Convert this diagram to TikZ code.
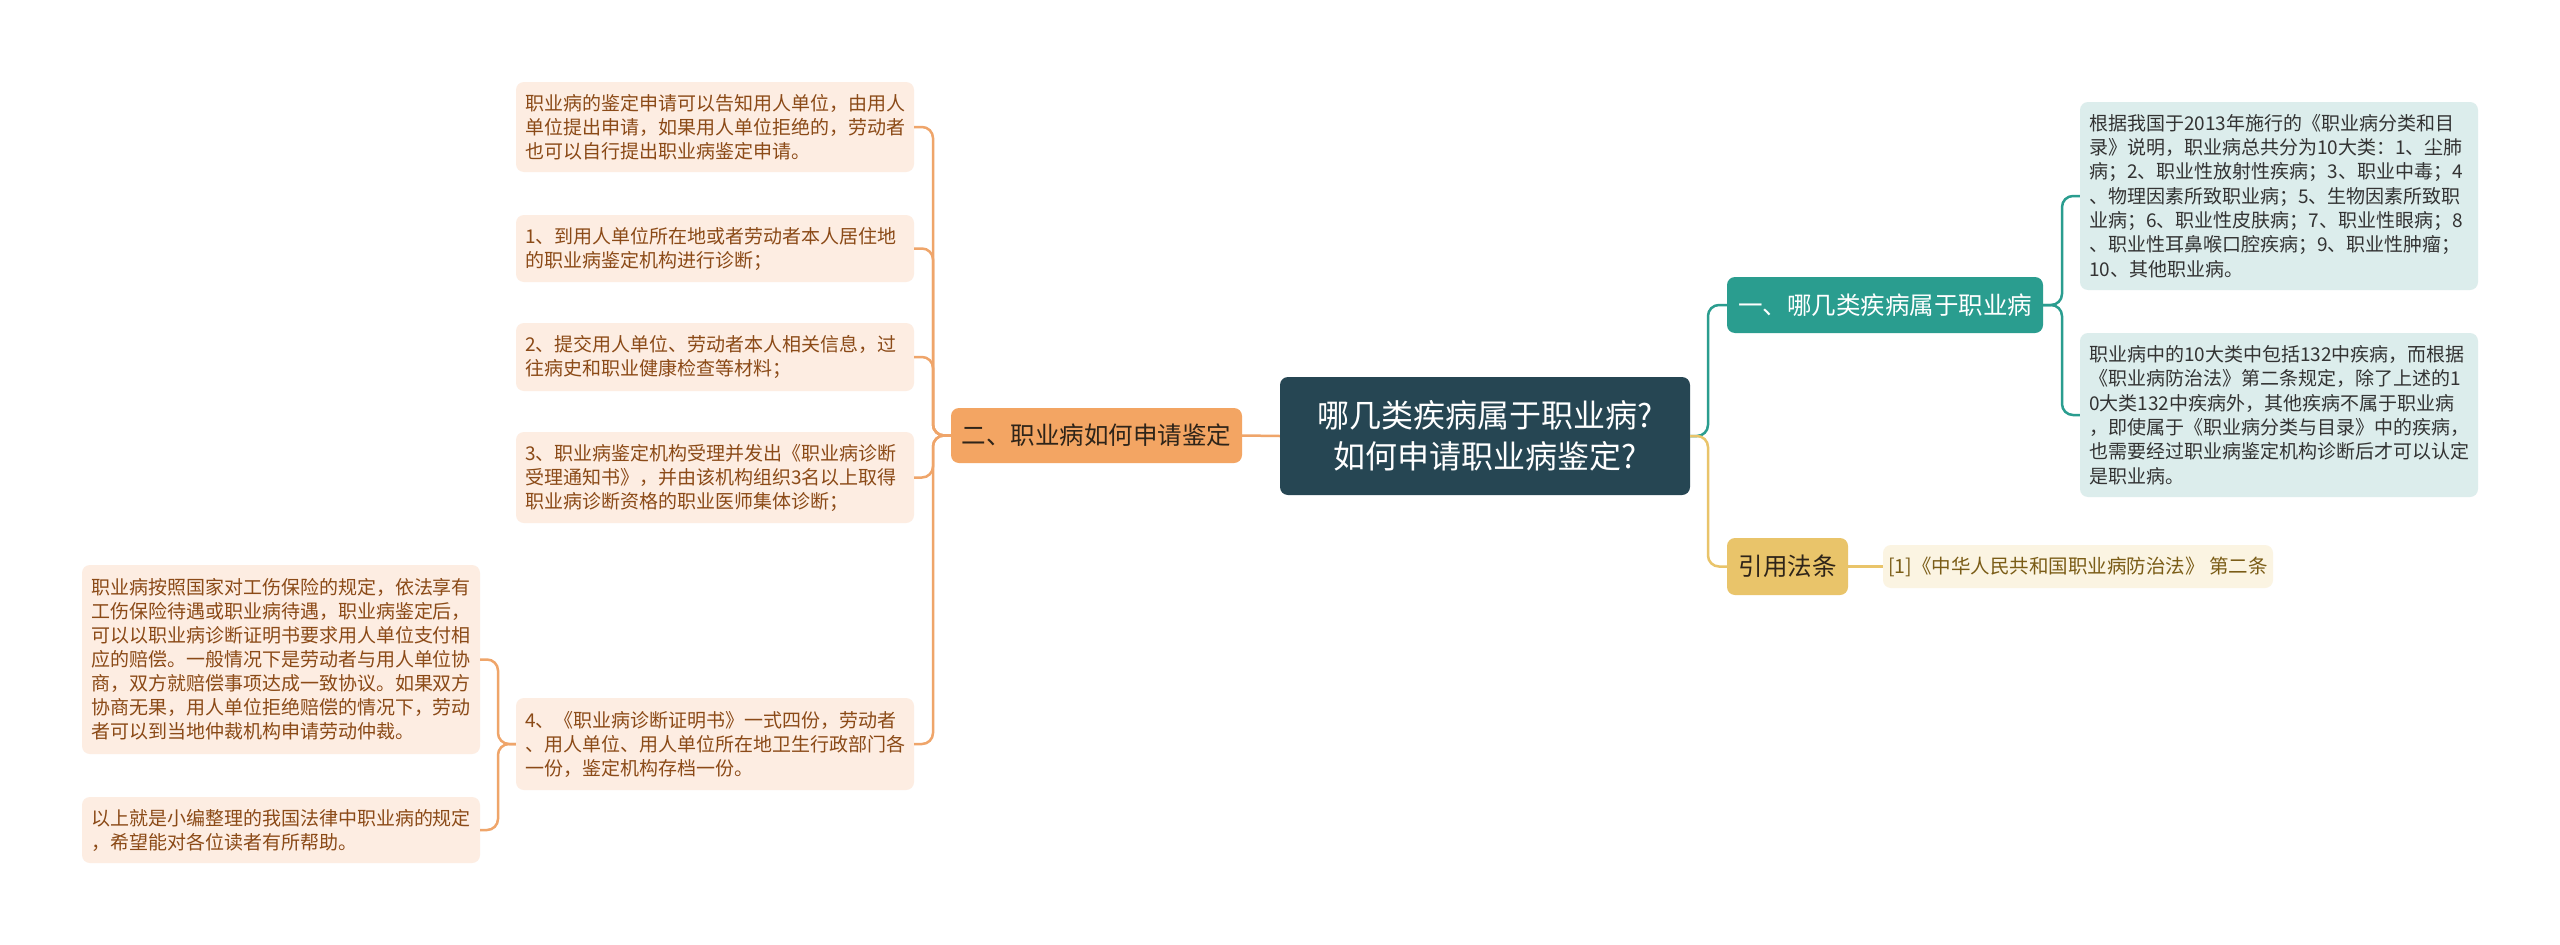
\documentclass[tikz,border=0pt]{standalone}
\usepackage{fontspec}
\setmainfont{Noto Sans CJK SC}
\definecolor{centerfill}{HTML}{264653}
\definecolor{ofill}{HTML}{F3A563}
\definecolor{tfill}{HTML}{2A9D8F}
\definecolor{gfill}{HTML}{E9C46A}
\definecolor{oleaf}{HTML}{FDEDE2}
\definecolor{oleaftext}{HTML}{8B4A17}
\definecolor{tleaf}{HTML}{DCEDEC}
\definecolor{tleaftext}{HTML}{333333}
\definecolor{gleaf}{HTML}{FBF4E2}
\definecolor{gleaftext}{HTML}{7A5C16}
\definecolor{oline}{HTML}{EFA56A}
\definecolor{tline}{HTML}{2A9D8F}
\definecolor{gline}{HTML}{E9C46A}
\definecolor{darktext}{HTML}{2E2419}
\tikzset{
  rootbox/.style={fill=centerfill, rounded corners=8pt, text=white, align=center,
    inner sep=0pt, minimum width=410pt, minimum height=118pt,
    font=\fontsize{32}{41}\selectfont},
  branchbox/.style={rounded corners=8pt, inner sep=0pt, align=center},
  oleafbox/.style={fill=oleaf, rounded corners=8pt, text=oleaftext, align=left,
    inner xsep=9pt, inner ysep=0pt, text width=380pt,
    font=\fontsize{19}{24}\selectfont},
  tleafbox/.style={fill=tleaf, rounded corners=8pt, text=tleaftext, align=left,
    inner xsep=9pt, inner ysep=0pt, text width=380pt,
    font=\fontsize{19}{24.3}\selectfont},
  gleafbox/.style={fill=gleaf, rounded corners=8pt, text=gleaftext, align=center,
    inner sep=0pt, minimum width=390pt, minimum height=43pt,
    font=\fontsize{19.5}{24}\selectfont},
  conO/.style={draw=oline, line width=2.5pt, rounded corners=11pt},
  conT/.style={draw=tline, line width=2.5pt, rounded corners=11pt},
  conG/.style={draw=gline, line width=2.5pt, rounded corners=11pt},
}
\begin{document}
\begin{tikzpicture}[x=1pt,y=-1pt]
\fill[white] (0,0) rectangle (2560,945);
\useasboundingbox (0,0) rectangle (2560,945);

% root
\node[rootbox] (C) at (1485,436) {哪几类疾病属于职业病?\\如何申请职业病鉴定?};

% branches
\node[branchbox, fill=ofill, text=darktext, minimum width=291pt, minimum height=55pt,
  font=\fontsize{24.5}{30}\selectfont] (B2) at (1096.5,435.5) {二、职业病如何申请鉴定};
\node[branchbox, fill=tfill, text=white, minimum width=316pt, minimum height=56pt,
  font=\fontsize{24.5}{30}\selectfont] (B1) at (1885,305) {一、哪几类疾病属于职业病};
\node[branchbox, fill=gfill, text=darktext, minimum width=121pt, minimum height=57pt,
  font=\fontsize{24.5}{30}\selectfont] (B3) at (1787.5,566.5) {引用法条};

% orange leaves
\node[oleafbox, minimum height=90pt] (O1) at (715,127) {职业病的鉴定申请可以告知用人单位，由用人\\单位提出申请，如果用人单位拒绝的，劳动者\\也可以自行提出职业病鉴定申请。};
\node[oleafbox, minimum height=67pt] (O2) at (715,248.5) {1、到用人单位所在地或者劳动者本人居住地\\的职业病鉴定机构进行诊断；};
\node[oleafbox, minimum height=68pt] (O3) at (715,357) {2、提交用人单位、劳动者本人相关信息，过\\往病史和职业健康检查等材料；};
\node[oleafbox, minimum height=91pt] (O4) at (715,477.5) {3、职业病鉴定机构受理并发出《职业病诊断\\受理通知书》，并由该机构组织3名以上取得\\职业病诊断资格的职业医师集体诊断；};
\node[oleafbox, minimum height=92pt] (O5) at (715,744) {4、《职业病诊断证明书》一式四份，劳动者\\、用人单位、用人单位所在地卫生行政部门各\\一份，鉴定机构存档一份。};
\node[oleafbox, minimum height=189pt] (O6) at (281,659.5) {职业病按照国家对工伤保险的规定，依法享有\\工伤保险待遇或职业病待遇，职业病鉴定后，\\可以以职业病诊断证明书要求用人单位支付相\\应的赔偿。一般情况下是劳动者与用人单位协\\商，双方就赔偿事项达成一致协议。如果双方\\协商无果，用人单位拒绝赔偿的情况下，劳动\\者可以到当地仲裁机构申请劳动仲裁。};
\node[oleafbox, minimum height=66pt] (O7) at (281,830) {以上就是小编整理的我国法律中职业病的规定\\，希望能对各位读者有所帮助。};

% teal leaves
\node[tleafbox, minimum height=188pt] (T1) at (2279,196) {根据我国于2013年施行的《职业病分类和目\\录》说明，职业病总共分为10大类：1、尘肺\\病；2、职业性放射性疾病；3、职业中毒；4\\、物理因素所致职业病；5、生物因素所致职\\业病；6、职业性皮肤病；7、职业性眼病；8\\、职业性耳鼻喉口腔疾病；9、职业性肿瘤；\\10、其他职业病。};
\node[tleafbox, minimum height=164pt] (T2) at (2279,415) {职业病中的10大类中包括132中疾病，而根据\\《职业病防治法》第二条规定，除了上述的1\\0大类132中疾病外，其他疾病不属于职业病\\，即使属于《职业病分类与目录》中的疾病，\\也需要经过职业病鉴定机构诊断后才可以认定\\是职业病。};

% gold leaf
\node[gleafbox] (G1) at (2078,566.5) {[1]《中华人民共和国职业病防治法》 第二条};

% connectors: root to branches
\draw[conO] (C.west) -- (B2.east);
\draw[conT] (C.east) -- (1708,436) |- (B1.west);
\draw[conG] (C.east) -- (1708,436) |- (B3.west);

% branch 2 to leaves
\foreach \n in {O1,O2,O3,O4,O5}{
  \draw[conO] (B2.west) -- (933,435.5) |- (\n.east);
}
\draw[conO] (O5.west) -- (498,744) |- (O6.east);
\draw[conO] (O5.west) -- (498,744) |- (O7.east);

% branch 1 to leaves
\draw[conT] (B1.east) -- (2062,305) |- (T1.west);
\draw[conT] (B1.east) -- (2062,305) |- (T2.west);

% branch 3 to leaf
\draw[conG] (B3.east) -- (G1.west);
\end{tikzpicture}
\end{document}
